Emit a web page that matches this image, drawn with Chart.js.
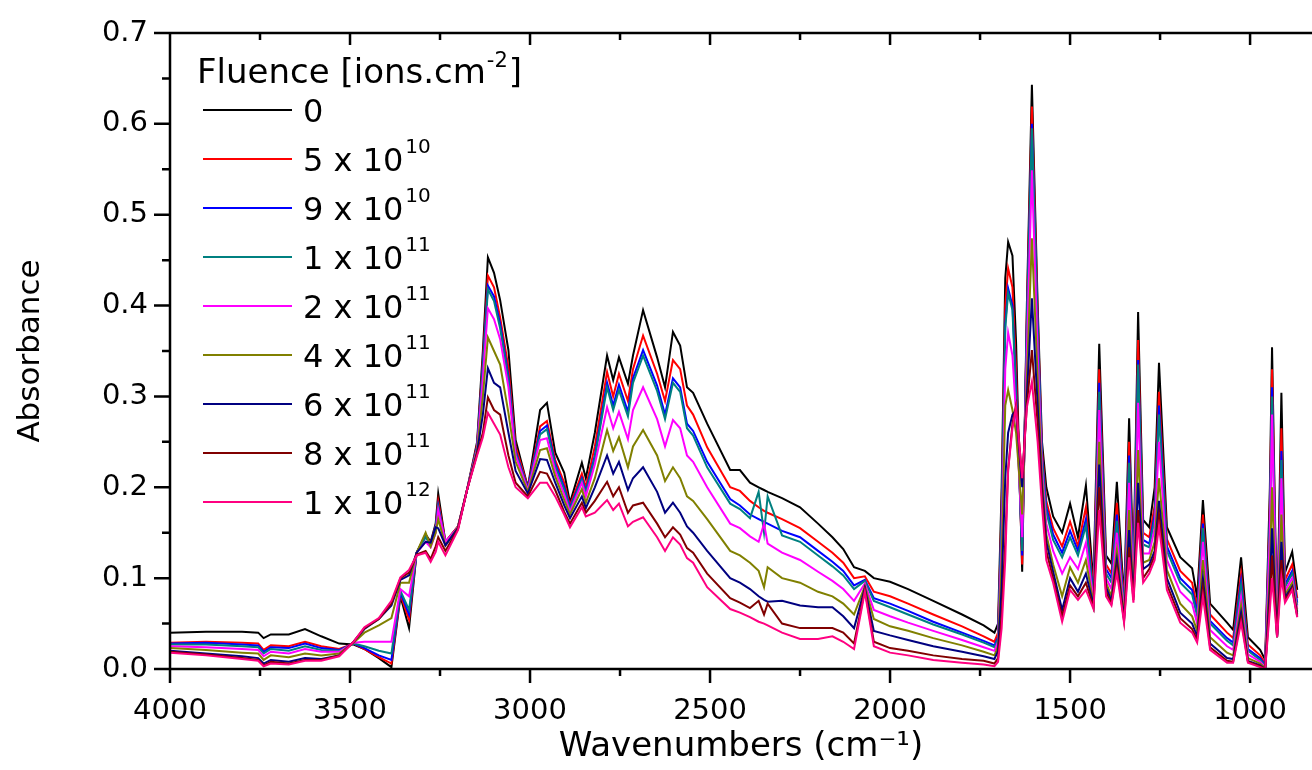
<!DOCTYPE html>
<html lang="en">

<head>
  <meta charset="UTF-8">
  <title>Fluence IR spectra</title>
  <script src="https://cdn.jsdelivr.net/npm/chart.js"></script>
  <style>
    body { margin: 0; background: #fff; }
    #wrap { width: 1312px; height: 770px; }
  </style>
</head>

<body>
  <div id="wrap"><canvas id="spectraChart"></canvas></div>

  <script>
    // wavenumbers (cm-1), shared by all curves
    const wavenumbers = [
      4000, 3900, 3800, 3755, 3740, 3720, 3670, 3625, 3580, 3530,
      3490, 3460, 3420, 3385, 3360, 3336, 3315, 3290, 3276, 3262,
      3255, 3235, 3200, 3175, 3147, 3131, 3117, 3100, 3083, 3060,
      3040, 3006, 2972, 2953, 2930, 2905, 2889, 2856, 2845, 2820,
      2786, 2769, 2753, 2728, 2714, 2686, 2647, 2625, 2603, 2583,
      2564, 2547, 2508, 2444, 2417, 2389, 2365, 2350, 2340, 2300,
      2250, 2200, 2160, 2130, 2100, 2070, 2045, 2000, 1950, 1880,
      1800, 1740, 1710, 1700, 1690, 1680, 1672, 1660, 1650, 1633,
      1620, 1606, 1590, 1578, 1566, 1547, 1522, 1500, 1478, 1456,
      1435, 1419, 1400, 1385, 1370, 1350, 1336, 1324, 1311, 1297,
      1280, 1265, 1253, 1231, 1194, 1161, 1147, 1131, 1111, 1064,
      1047, 1025, 1006, 972, 958, 945, 939, 925, 913, 903,
      883, 869
    ];

    // absorbance per fluence
    const abs0 = [
      .040, .041, .041, .040, .034, .038, .038, .044, .036, .028,
      .027, .022, .012, .002, .080, .045, .128, .148, .140, .160,
      .193, .140, .157, .197, .250, .350, .453, .436, .406, .351,
      .252, .200, .285, .293, .238, .216, .183, .227, .210, .260,
      .345, .318, .343, .314, .345, .395, .343, .310, .371, .356,
      .310, .304, .270, .219, .219, .205, .200, .197, .195, .188,
      .178, .160, .145, .132, .112, .108, .100, .096, .088, .075,
      .060, .048, .040, .050, .200, .430, .470, .455, .360, .107,
      .400, .643, .400, .250, .200, .168, .150, .182, .145, .202,
      .094, .358, .125, .116, .206, .076, .276, .109, .393, .164,
      .156, .200, .337, .156, .123, .111, .079, .186, .072, .051,
      .043, .123, .035, .021, .010, .200, .354, .040, .304, .106,
      .129, .087
    ];
    const abs5e10 = [
      .029, .030, .029, .028, .021, .026, .025, .030, .025, .022,
      .028, .022, .013, .006, .082, .054, .128, .147, .138, .158,
      .185, .140, .157, .197, .247, .340, .433, .420, .387, .332,
      .245, .200, .267, .273, .230, .205, .180, .215, .200, .245,
      .327, .300, .325, .295, .330, .367, .325, .295, .340, .330,
      .290, .280, .244, .200, .196, .185, .178, .174, .172, .165,
      .155, .140, .128, .117, .100, .102, .085, .080, .072, .060,
      .047, .036, .030, .040, .180, .400, .441, .420, .330, .115,
      .390, .619, .390, .240, .185, .155, .135, .162, .135, .178,
      .085, .330, .115, .105, .183, .070, .250, .100, .362, .150,
      .145, .180, .305, .143, .108, .095, .068, .170, .060, .040,
      .034, .105, .027, .015, .006, .180, .330, .038, .265, .098,
      .115, .078
    ];
    const abs9e10 = [
      .028, .029, .027, .026, .019, .024, .023, .028, .023, .021,
      .028, .023, .015, .010, .084, .060, .128, .146, .137, .157,
      .180, .139, .156, .197, .245, .335, .422, .410, .380, .322,
      .240, .199, .262, .268, .226, .200, .178, .210, .196, .235,
      .315, .290, .313, .283, .320, .351, .312, .280, .320, .310,
      .270, .262, .228, .187, .180, .170, .165, .162, .160, .152,
      .145, .130, .118, .108, .092, .098, .078, .072, .064, .052,
      .040, .031, .026, .035, .170, .380, .419, .400, .310, .125,
      .380, .600, .380, .235, .178, .148, .128, .152, .130, .165,
      .080, .315, .110, .100, .170, .066, .235, .095, .340, .142,
      .138, .170, .290, .135, .100, .087, .062, .160, .053, .034,
      .029, .097, .022, .012, .004, .170, .310, .037, .240, .093,
      .108, .073
    ];
    const abs1e11 = [
      .027, .027, .025, .024, .017, .022, .020, .025, .021, .020,
      .028, .025, .020, .017, .086, .065, .128, .145, .136, .156,
      .178, .138, .156, .197, .244, .330, .418, .405, .375, .318,
      .238, .198, .258, .264, .223, .197, .176, .208, .194, .232,
      .310, .285, .307, .278, .315, .345, .306, .275, .315, .305,
      .265, .257, .222, .182, .176, .166, .195, .150, .190, .147,
      .140, .125, .113, .103, .088, .097, .075, .068, .060, .049,
      .038, .029, .024, .033, .165, .375, .414, .395, .300, .130,
      .375, .595, .370, .230, .173, .142, .123, .145, .125, .158,
      .078, .305, .105, .095, .163, .064, .227, .092, .335, .137,
      .134, .165, .280, .130, .095, .082, .058, .155, .050, .031,
      .026, .092, .020, .010, .003, .165, .300, .036, .230, .090,
      .105, .070
    ];
    const abs2e11 = [
      .025, .024, .022, .021, .014, .019, .017, .022, .019, .019,
      .029, .030, .030, .030, .088, .080, .128, .140, .134, .150,
      .175, .140, .156, .197, .242, .320, .397, .385, .363, .310,
      .235, .197, .252, .254, .218, .192, .173, .205, .190, .225,
      .288, .265, .283, .253, .285, .310, .275, .245, .274, .265,
      .235, .228, .200, .160, .155, .146, .140, .160, .138, .128,
      .120, .107, .097, .088, .075, .094, .065, .058, .051, .042,
      .032, .024, .020, .030, .140, .330, .370, .345, .280, .145,
      .350, .549, .350, .220, .160, .130, .105, .123, .110, .139,
      .075, .285, .100, .088, .150, .060, .205, .088, .293, .127,
      .127, .155, .250, .120, .085, .072, .050, .140, .043, .025,
      .021, .079, .016, .008, .002, .150, .280, .036, .210, .086,
      .100, .066
    ];
    const abs4e11 = [
      .023, .021, .018, .017, .010, .015, .013, .017, .015, .017,
      .029, .040, .048, .056, .095, .095, .128, .150, .135, .150,
      .165, .136, .156, .197, .240, .300, .365, .350, .335, .282,
      .228, .195, .241, .243, .212, .186, .170, .198, .183, .210,
      .263, .240, .255, .222, .245, .263, .235, .207, .222, .210,
      .190, .185, .165, .130, .125, .117, .108, .090, .112, .100,
      .095, .085, .080, .072, .060, .091, .055, .047, .042, .034,
      .026, .019, .015, .025, .120, .290, .307, .285, .260, .170,
      .320, .474, .320, .210, .148, .115, .080, .112, .095, .120,
      .072, .250, .095, .080, .131, .058, .175, .083, .241, .117,
      .120, .140, .210, .109, .072, .058, .042, .120, .035, .018,
      .015, .070, .012, .006, .001, .110, .200, .035, .170, .082,
      .095, .063
    ];
    const abs6e11 = [
      .020, .017, .014, .012, .006, .010, .008, .012, .011, .015,
      .030, .044, .055, .070, .098, .103, .128, .140, .139, .156,
      .155, .136, .155, .197, .238, .280, .331, .315, .310, .260,
      .218, .193, .231, .230, .205, .180, .166, .190, .177, .200,
      .235, .215, .228, .197, .210, .222, .195, .172, .183, .172,
      .157, .150, .130, .100, .095, .088, .080, .076, .074, .075,
      .070, .068, .068, .058, .045, .089, .042, .037, .032, .025,
      .019, .014, .011, .020, .090, .210, .260, .280, .285, .200,
      .300, .408, .290, .200, .140, .107, .065, .100, .085, .105,
      .070, .225, .090, .075, .120, .055, .153, .079, .205, .110,
      .115, .130, .185, .100, .062, .050, .036, .100, .028, .012,
      .011, .062, .009, .004, .000, .090, .155, .035, .140, .079,
      .091, .060
    ];
    const abs8e11 = [
      .019, .016, .012, .010, .004, .008, .006, .010, .010, .015,
      .030, .045, .055, .072, .100, .106, .126, .130, .121, .135,
      .145, .130, .154, .197, .237, .260, .299, .285, .280, .235,
      .205, .190, .217, .215, .197, .173, .160, .183, .172, .185,
      .206, .190, .200, .172, .180, .183, .160, .145, .156, .148,
      .133, .128, .105, .078, .073, .067, .075, .060, .072, .050,
      .045, .045, .045, .040, .028, .087, .030, .023, .020, .015,
      .011, .009, .006, .012, .060, .140, .220, .270, .290, .210,
      .290, .351, .270, .190, .130, .100, .058, .092, .080, .095,
      .068, .200, .085, .072, .112, .053, .134, .076, .175, .100,
      .110, .125, .170, .093, .056, .044, .032, .090, .024, .009,
      .008, .056, .008, .003, .000, .075, .125, .035, .120, .076,
      .089, .058
    ];
    const abs1e12 = [
      .018, .015, .011, .009, .003, .006, .005, .009, .009, .014,
      .030, .046, .056, .075, .101, .109, .125, .128, .118, .129,
      .140, .125, .153, .197, .235, .255, .282, .270, .258, .222,
      .200, .188, .205, .205, .190, .170, .156, .178, .168, .172,
      .186, .175, .182, .157, .162, .167, .145, .130, .145, .137,
      .122, .117, .090, .066, .062, .057, .052, .050, .048, .040,
      .033, .033, .036, .030, .022, .085, .025, .018, .015, .010,
      .007, .005, .003, .008, .045, .120, .219, .265, .288, .210,
      .288, .316, .250, .180, .120, .095, .052, .087, .076, .087,
      .066, .175, .080, .070, .106, .051, .123, .073, .161, .095,
      .105, .120, .157, .087, .051, .040, .029, .080, .021, .007,
      .007, .051, .007, .002, .000, .065, .100, .035, .101, .073,
      .087, .057
    ];

    const seriesList = [abs0, abs5e10, abs9e10, abs1e11, abs2e11, abs4e11, abs6e11, abs8e11, abs1e12];
    const legendMantissa = ['0', '5 x 10', '9 x 10', '1 x 10', '2 x 10', '4 x 10', '6 x 10', '8 x 10', '1 x 10'];
    const legendExponent = ['', '10', '10', '11', '11', '11', '11', '11', '12'];
    const colors = ['#000000', '#ff0000', '#0000ff', '#008080', '#ff00ff', '#808000', '#000080', '#800000', '#ff0080'];

    const xLabelTicks = [1000, 1500, 2000, 2500, 3000, 3500, 4000];
    const yLabelTicks = [0, 0.1, 0.2, 0.3, 0.4, 0.5, 0.6, 0.7];

    Chart.defaults.font.family = "'DejaVu Sans', sans-serif";
    Chart.defaults.color = '#000';

    // axes frame with major/minor ticks (origin style)
    const framePlugin = {
      id: 'frame',
      afterDraw(chart) {
        const { ctx, chartArea: a, scales: { x, y } } = chart;
        ctx.save();
        ctx.strokeStyle = '#000';
        ctx.lineWidth = 2.5;
        ctx.beginPath();
        ctx.moveTo(a.left, a.top); ctx.lineTo(a.right, a.top);
        ctx.moveTo(a.left, a.top); ctx.lineTo(a.left, a.bottom);
        ctx.moveTo(a.left, a.bottom); ctx.lineTo(a.right, a.bottom);
        for (let w = 4000; w >= 750; w -= 250) {
          const px = x.getPixelForValue(w);
          if (px > a.right) continue;
          const major = w % 500 === 0;
          ctx.moveTo(px, a.bottom); ctx.lineTo(px, a.bottom + (major ? 14 : 7));
          ctx.moveTo(px, a.top); ctx.lineTo(px, a.top + (major ? 12 : 7));
        }
        for (let i = 0; i <= 14; i++) {
          const py = y.getPixelForValue(i * 0.05);
          ctx.moveTo(a.left - (i % 2 === 0 ? 16 : 8), py); ctx.lineTo(a.left, py);
        }
        ctx.stroke();
        ctx.restore();
      }
    };

    // legend with superscript exponents
    const legendPlugin = {
      id: 'fluenceLegend',
      afterDraw(chart) {
        const ctx = chart.ctx;
        ctx.save();
        ctx.fillStyle = '#000';
        ctx.textBaseline = 'alphabetic';
        ctx.font = "34px 'DejaVu Sans'";
        const t1 = 'Fluence [ions.cm';
        ctx.fillText(t1, 197, 83);
        let tx = 197 + ctx.measureText(t1).width;
        ctx.font = "21px 'DejaVu Sans'";
        ctx.fillText('-2', tx + 1, 67);
        tx += ctx.measureText('-2').width + 2;
        ctx.font = "34px 'DejaVu Sans'";
        ctx.fillText(']', tx, 83);

        legendMantissa.forEach((txt, i) => {
          const ly = 110 + i * 49;
          ctx.strokeStyle = colors[i];
          ctx.lineWidth = 2;
          ctx.beginPath();
          ctx.moveTo(203, ly); ctx.lineTo(292, ly);
          ctx.stroke();
          ctx.font = "32px 'DejaVu Sans'";
          ctx.fillText(txt, 303, ly + 12);
          if (legendExponent[i]) {
            const ex = 303 + ctx.measureText(txt).width + 2;
            ctx.font = "20px 'DejaVu Sans'";
            ctx.fillText(legendExponent[i], ex, ly - 6);
          }
        });
        ctx.restore();
      }
    };

    const ctx = document.getElementById('spectraChart').getContext('2d');
    const spectraChart = new Chart(ctx, {
      type: 'line',
      data: {
        datasets: seriesList.map((vals, i) => ({
          label: legendMantissa[i] + (legendExponent[i] ? '^' + legendExponent[i] : ''),
          data: wavenumbers.map((w, k) => ({ x: w, y: vals[k] })),
          borderColor: colors[i],
          borderWidth: 2,
          pointRadius: 0,
          tension: 0,
          order: seriesList.length - i
        }))
      },
      options: {
        responsive: true,
        maintainAspectRatio: false,
        animation: false,
        layout: { padding: { top: 33, left: 0, right: 0, bottom: 0 } },
        plugins: {
          legend: { display: false },
          tooltip: { enabled: false }
        },
        scales: {
          x: {
            type: 'linear',
            reverse: true,
            min: 828,
            max: 4000,
            afterBuildTicks: s => { s.ticks = xLabelTicks.map(v => ({ value: v })); },
            afterFit: s => { s.height = 101; s.paddingLeft = 0; s.paddingRight = 0; },
            grid: { display: false, drawTicks: false },
            border: { display: false },
            ticks: { font: { size: 29 }, padding: 25, maxRotation: 0, autoSkip: false, callback: v => String(v) },
            title: { display: true, text: 'Wavenumbers (cm⁻¹)', font: { size: 34 }, padding: { top: 0, bottom: 2 } }
          },
          y: {
            min: 0,
            max: 0.7,
            afterBuildTicks: s => { s.ticks = yLabelTicks.map(v => ({ value: v })); },
            afterFit: s => { s.width = 170; s.paddingTop = 0; s.paddingBottom = 0; },
            grid: { display: false, drawTicks: false },
            border: { display: false },
            ticks: { font: { size: 29 }, padding: 22, callback: v => v.toFixed(1) },
            title: { display: true, text: 'Absorbance', font: { size: 31 }, padding: { top: 12, bottom: 0 } }
          }
        }
      },
      plugins: [framePlugin, legendPlugin]
    });
  </script>
</body>

</html>
